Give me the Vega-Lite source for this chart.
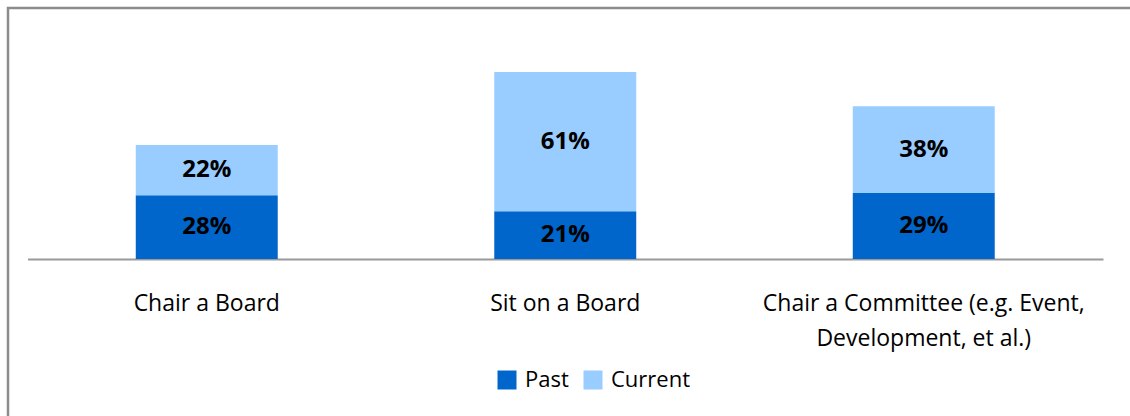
{
  "$schema": "https://vega.github.io/schema/vega-lite/v6.json",
  "width": 1125,
  "height": 410,
  "autosize": "none",
  "padding": {"left": 8, "top": 8, "right": 0, "bottom": 0},
  "background": "white",
  "config": {
    "view": {"stroke": "#8c8c8c", "strokeWidth": 2.5},
    "font": "Open Sans"
  },
  "data": {
    "values": [
      {"category": "Chair a Board", "status": "Past", "value": 0.28, "order": 1},
      {"category": "Chair a Board", "status": "Current", "value": 0.22, "order": 2},
      {"category": "Sit on a Board", "status": "Past", "value": 0.21, "order": 1},
      {"category": "Sit on a Board", "status": "Current", "value": 0.61, "order": 2},
      {"category": "Chair a Committee (e.g. Event, Development, et al.)", "status": "Past", "value": 0.29, "order": 1},
      {"category": "Chair a Committee (e.g. Event, Development, et al.)", "status": "Current", "value": 0.38, "order": 2}
    ]
  },
  "transform": [
    {"stack": "value", "groupby": ["category"], "sort": [{"field": "order"}], "as": ["v0", "v1"]},
    {"calculate": "(datum.v0 + datum.v1) / 2", "as": "mid"}
  ],
  "encoding": {
    "x": {
      "field": "category",
      "type": "nominal",
      "sort": ["Chair a Board", "Sit on a Board", "Chair a Committee (e.g. Event, Development, et al.)"],
      "scale": {"range": [19.5, 1095], "paddingInner": 0.604, "paddingOuter": 0.302},
      "axis": {
        "title": null,
        "orient": "bottom",
        "offset": -159,
        "labelAngle": 0,
        "ticks": false,
        "grid": false,
        "domainColor": "#9a9a9a",
        "domainWidth": 1.8,
        "labelFontSize": 23,
        "labelColor": "#000000",
        "labelPadding": 33,
        "labelLineHeight": 35,
        "labelBaseline": "top",
        "labelLimit": 0,
        "labelExpr": "datum.value == 'Chair a Committee (e.g. Event, Development, et al.)' ? ['Chair a Committee (e.g. Event,', 'Development, et al.)'] : datum.value"
      }
    }
  },
  "layer": [
    {
      "mark": {"type": "bar"},
      "encoding": {
        "y": {
          "field": "v0",
          "type": "quantitative",
          "scale": {"domain": [-0.697, 1.101], "nice": false, "zero": false},
          "axis": null
        },
        "y2": {"field": "v1"},
        "color": {
          "field": "status",
          "type": "nominal",
          "sort": ["Past", "Current"],
          "scale": {"domain": ["Past", "Current"], "range": ["#0066CC", "#99CCFF"]},
          "legend": {
            "title": null,
            "orient": "none",
            "direction": "horizontal",
            "legendX": 488,
            "legendY": 361,
            "padding": 0,
            "symbolType": "square",
            "symbolSize": 361,
            "symbolStrokeWidth": 0,
            "symbolOpacity": 1,
            "labelFontSize": 22,
            "labelColor": "#000000",
            "labelOffset": 7,
            "columnPadding": 13
          }
        }
      }
    },
    {
      "mark": {"type": "text", "fontWeight": "bold", "fontSize": 24, "color": "#000000", "baseline": "middle"},
      "encoding": {
        "y": {"field": "mid", "type": "quantitative"},
        "text": {"field": "value", "type": "quantitative", "format": ".0%"}
      }
    }
  ]
}
